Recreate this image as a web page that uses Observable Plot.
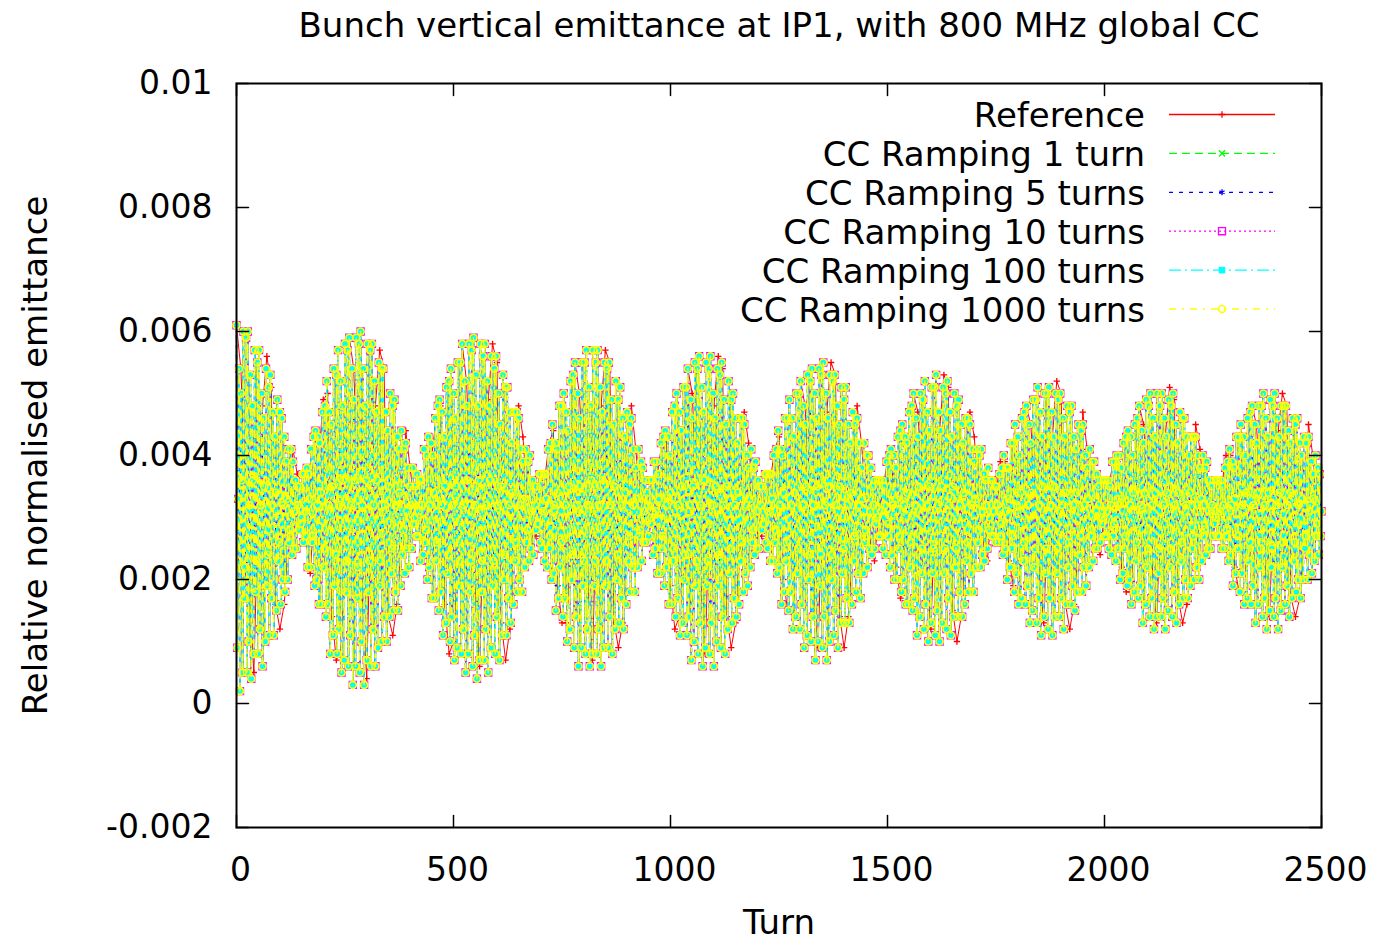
<!DOCTYPE html>
<html><head><meta charset="utf-8">
<script src="https://cdn.jsdelivr.net/npm/d3@7"></script>
<script src="https://cdn.jsdelivr.net/npm/@observablehq/plot@0.6"></script>
<style>
body{margin:0;background:#fff;}
#wrap{position:relative;width:1375px;height:941px;background:#fff;}
#wrap svg{position:absolute;left:0;top:0;}
</style></head><body><div id="wrap"></div>
<script>
// ---- chart text ----
const titleText = "Bunch vertical emittance at IP1, with 800 MHz global CC";
const xLabel = "Turn";
const yLabel = "Relative normalised emittance";
const xTicks = [0, 500, 1000, 1500, 2000, 2500];
const xTickLabels = ["0", "500", "1000", "1500", "2000", "2500"];
const yTicks = [-0.002, 0, 0.002, 0.004, 0.006, 0.008, 0.01];
const yTickLabels = ["-0.002", "0", "0.002", "0.004", "0.006", "0.008", "0.01"];
const seriesNames = ["Reference", "CC Ramping 1 turn", "CC Ramping 5 turns", "CC Ramping 10 turns", "CC Ramping 100 turns", "CC Ramping 1000 turns"];

// ---- values, emittance in units of 1e-4 ----
const refStep = 10;   // turns between reference samples
const refEmit = [
61,54,36,17,5,32,48,56,51,16,12,16,27,
41,37,32,27,21,32,40,49,50,14,7,8,23,
59,54,36,17,4,33,48,57,54,14,11,16,26,
44,38,32,28,24,32,40,46,48,16,8,10,23,
58,52,36,18,6,32,49,58,55,13,7,12,25,
48,43,33,27,27,31,36,42,44,19,13,13,24,
55,50,36,19,7,32,48,57,55,13,9,13,25,
48,41,33,27,27,31,37,42,43,19,12,14,25,
54,50,35,19,8,32,48,56,54,14,9,13,26,
47,42,33,27,27,31,36,41,43,20,15,15,25,
52,48,35,19,9,32,47,55,53,14,9,14,25,
48,42,33,26,23,31,35,39,40,22,17,18,26,
50,47,35,21,12,32,44,53,51,15,10,14,26,
47,43,33,26,23,31,34,39,39,23,19,18,26,
48,45,35,21,13,32,43,52,50,16,12,16,26,
47,41,33,26,24,31,35,39,39,22,18,18,27,
48,45,34,22,13,32,43,51,49,17,13,16,27,
45,41,33,27,27,31,35,40,40,22,18,18,26,
48,45,34,22,14,32,44,50,48,17,14,17,27,
45,40,33,27];

const ccStep = 2;     // turns between ramped-CC samples (the five ramped runs coincide)
const ccEmit = [
61,9,33,54,2,50,36,5,60,17,22,59,5,60,10,32,53,4,48,36,8,57,18,23,55,8,57,12,32,50,6,46,35,10,54,19,24,51,11,53,17,32,47,11,43,34,15,49,23,26,47,16,
46,20,32,43,18,39,33,20,41,26,28,41,24,39,25,31,36,25,35,32,28,35,29,30,37,26,37,27,31,38,22,37,33,22,41,26,27,43,19,44,20,32,43,16,42,34,16,47,22,25,48,14,
52,16,32,47,8,45,35,11,54,19,24,53,8,57,12,32,52,5,48,36,7,58,18,23,57,6,59,11,32,54,3,49,36,6,59,17,22,58,5,60,10,32,54,3,48,36,7,58,18,23,57,6,
58,12,32,52,6,47,36,9,55,19,23,54,10,54,14,32,47,10,44,35,14,50,21,25,48,15,49,18,32,43,15,41,34,19,44,24,28,41,21,42,25,31,38,22,35,32,25,38,29,30,35,27,
37,27,31,36,23,36,32,24,41,26,28,40,20,43,22,32,42,17,40,34,17,46,23,26,48,15,49,18,32,47,11,43,35,13,51,21,24,52,10,54,14,32,50,7,46,35,9,55,19,23,55,8,
58,12,32,52,5,48,36,8,58,18,23,57,6,59,11,32,53,4,48,36,7,58,18,23,56,7,58,12,32,52,5,48,36,9,56,19,23,54,8,56,14,32,50,7,45,35,11,53,20,24,51,11,
51,17,32,47,13,42,34,16,47,23,26,47,18,46,20,32,41,18,39,33,22,41,26,28,39,23,40,25,31,36,24,35,32,28,35,29,29,37,26,37,25,31,37,23,37,33,22,41,25,27,42,20,
45,21,32,42,15,41,34,17,48,22,26,48,14,50,17,32,47,10,44,35,12,52,20,24,53,9,55,14,32,50,6,46,35,9,55,19,23,55,8,57,12,32,51,6,48,36,8,57,19,23,55,8,
57,12,32,51,6,47,36,9,55,19,23,54,9,55,14,32,49,8,45,35,12,52,20,24,49,13,51,17,32,46,12,43,34,16,47,23,27,45,18,46,22,32,41,18,38,33,22,41,27,28,39,23,
38,26,31,36,26,34,32,27,36,29,30,36,24,39,25,31,39,21,37,33,21,42,25,27,43,19,44,22,32,43,16,40,34,16,47,23,25,48,14,50,17,32,47,11,44,35,13,51,20,24,51,11,
54,14,32,49,7,46,35,10,55,19,23,54,8,56,13,32,51,6,47,36,9,55,19,23,54,8,56,13,32,50,6,46,35,10,54,19,24,53,9,55,14,32,49,8,45,35,12,52,21,25,49,13,
50,17,32,46,14,42,34,16,46,23,26,46,18,45,21,32,40,19,38,33,22,41,26,28,38,24,39,25,31,36,25,35,32,28,35,29,29,37,26,37,25,31,37,23,37,33,23,40,26,28,41,21,
44,22,32,41,16,40,34,18,46,23,26,46,15,49,18,32,46,12,43,34,14,50,21,25,50,12,52,16,32,48,9,45,35,11,53,20,24,52,10,54,14,32,50,7,46,35,10,54,19,24,53,9,
55,14,32,50,7,46,35,10,53,20,24,52,11,53,15,32,48,9,45,35,13,51,21,25,49,13,51,17,32,45,13,42,34,16,47,23,27,45,18,46,21,32,42,17,38,33,21,42,26,28,40,22,
40,25,31,38,24,35,32,25,36,29,30,36,27,36,27,31,36,25,35,32,24,39,27,29,40,22,41,24,32,40,20,38,33,20,43,25,27,44,18,45,20,32,43,16,42,34,16,47,22,26,48,15,
50,17,32,46,11,43,35,14,50,21,25,49,12,52,16,32,47,10,44,35,13,51,21,25,51,11,53,15,32,47,10,44,35,13,51,21,25,50,12,52,17,32,47,11,43,35,14,50,22,25,48,14,
49,18,32,45,14,42,34,16,46,23,26,46,18,45,21,32,41,18,39,33,22,41,26,28,40,22,41,24,31,37,23,36,32,25,38,28,30,36,27,36,27,31,35,26,35,32,26,37,27,29,38,24,
40,25,31,38,20,38,33,22,42,25,27,42,18,45,21,32,43,16,40,34,17,46,23,26,47,16,48,19,32,45,13,42,34,15,49,22,25,49,13,51,17,32,47,11,43,35,14,50,21,25,50,12,
51,17,32,47,11,43,35,14,50,21,25,49,14,50,17,32,46,12,43,34,16,48,22,26,47,16,48,19,32,43,15,41,34,18,45,24,27,44,18,45,22,32,40,19,38,33,22,41,27,28,39,23,
39,25,31,37,25,35,32,26,36,29,30,36,27,36,27,31,36,25,35,32,24,39,27,29,39,23,40,25,32,40,20,38,33,21,42,25,27,43,19,44,20,32,43,16,40,34,18,45,23,26,46,17,
48,19,32,44,13,42,34,16,49,22,25,48,14,50,17,32,46,12,43,34,14,50,21,25,48,14,50,17,32,46,12,43,34,15,49,22,25,48,14,50,18,32,45,13,42,34,16,47,23,26,46,17,
46,20,32,43,17,40,34,19,43,25,27,43,20,43,22,32,40,20,38,33,23,40,27,28,38,24,39,25,31,36,25,35,32,27,36,29,30,36,27,36,27,31,36,25,35,32,25,38,27,28,39,23,
41,24,32,39,19,38,33,21,43,25,27,43,18,45,21,32,43,16,40,34,17,46,23,26,47,16,48,19,32,45,13,42,34,16,48,22,25,48,14,50,17,32,46,12,43,34,15,49,22,25,48,14,
50,17,32,46,12,43,34,15,48,22,26,48,16,48,19,32,44,14,42,34,17,46,23,26,45,18,46,20,32,42,17,40,33,20,43,25,27,42,20,43,24,32,39,21,37,33,23,40,27,29,38,24,
37,27,31];

// ---- styles ----
const FONT = "DejaVu Sans";
const styles = [
  {color: "#ff0000", dash: null,        symbol: "plus",     r: 2.2, filled: false, sw: 1.3, lw: 1},
  {color: "#00ff00", dash: "8,5",       symbol: "times",    r: 2.9, filled: false, sw: 1.3, lw: 1.5},
  {color: "#0000ff", dash: "4,6",       symbol: "asterisk", r: 2.8, filled: false, sw: 1.3, lw: 1.5},
  {color: "#ff00ff", dash: "2,3",       symbol: "square",   r: 4,   filled: false, sw: 1.3, lw: 1.5},
  {color: "#00ffff", dash: "12,4,2,4",  symbol: "square",   r: 3.7, filled: true,  sw: 1.3, lw: 1.5},
  {color: "#ffff00", dash: "7,6,2,6",   symbol: "circle",   r: 3.5, filled: false, sw: 1.6, lw: 1.5}
];

const refRows = refEmit.map((v, j) => ({turn: j * refStep, emit: v * 1e-4}));
const ccRows = ccEmit.map((v, i) => ({turn: i * ccStep, emit: v * 1e-4}));
const seriesRows = [refRows, ccRows, ccRows, ccRows, ccRows, ccRows];

const dataMarks = [];
seriesRows.forEach((rows, k) => {
  const s = styles[k];
  dataMarks.push(Plot.line(rows, {x: "turn", y: "emit", stroke: s.color, strokeWidth: s.lw, strokeDasharray: s.dash}));
  dataMarks.push(Plot.dot(rows, {x: "turn", y: "emit", symbol: s.symbol, r: s.r,
    fill: s.filled ? s.color : "none", stroke: s.filled ? "none" : s.color, strokeWidth: s.sw}));
});

const tickShape = {draw(ctx, l) { ctx.moveTo(0, 0); ctx.lineTo(0, -l); }};
const tickOpts = {length: 12, anchor: "start", shape: tickShape, stroke: "black", strokeWidth: 1.5};

const chart = Plot.plot({
  width: 1375, height: 941,
  marginLeft: 236, marginRight: 54, marginTop: 83, marginBottom: 114,
  x: {domain: [0, 2500], axis: null},
  y: {domain: [-0.002, 0.01], axis: null},
  style: {background: "white", fontFamily: FONT},
  marks: [
    ...dataMarks,
    Plot.axisY(yTicks, {anchor: "left", tickSize: 0, tickPadding: 24, label: null,
      tickFormat: d => yTickLabels[yTicks.indexOf(d)], fontSize: 33, fontFamily: FONT, fill: "black"}),
    Plot.axisX(xTicks, {anchor: "bottom", tickSize: 0, tickPadding: 30, dx: 4, label: null,
      tickFormat: d => xTickLabels[xTicks.indexOf(d)], fontSize: 33, fontFamily: FONT, fill: "black"}),
    Plot.vector(yTicks, {y: d => d, frameAnchor: "left", rotate: 90, ...tickOpts}),
    Plot.vector(yTicks, {y: d => d, frameAnchor: "right", rotate: -90, ...tickOpts}),
    Plot.vector(xTicks, {x: d => d, frameAnchor: "bottom", rotate: 0, ...tickOpts}),
    Plot.vector(xTicks, {x: d => d, frameAnchor: "top", rotate: 180, ...tickOpts}),
    Plot.text([titleText], {text: d => d, frameAnchor: "top", textAnchor: "middle", lineAnchor: "bottom", dy: -47, fontSize: 34, fontFamily: FONT, fill: "black"}),
    Plot.text([xLabel], {text: d => d, frameAnchor: "bottom", textAnchor: "middle", lineAnchor: "bottom", dy: 106, fontSize: 34, fontFamily: FONT, fill: "black"}),
    Plot.text([yLabel], {text: d => d, frameAnchor: "left", textAnchor: "middle", rotate: -90, lineAnchor: "bottom", dx: -190, fontSize: 34, fontFamily: FONT, fill: "black"}),
    Plot.frame({stroke: "black", strokeWidth: 2})
  ]
});
const wrap = document.getElementById("wrap");
wrap.appendChild(chart);

// ---- legend (key box inside the plot, top right) ----
const symbolTypes = {plus: d3.symbolPlus, times: d3.symbolTimes, asterisk: d3.symbolAsterisk, square: d3.symbolSquare, circle: d3.symbolCircle};
const leg = d3.select(wrap).append("svg").attr("width", 1375).attr("height", 941).style("pointer-events", "none");
const row0 = 114.5, rowGap = 38.9, textRight = 1145, lineX1 = 1169, lineX2 = 1275, markX = 1222;
seriesNames.forEach((name, k) => {
  const s = styles[k];
  const y = row0 + k * rowGap;
  leg.append("text").attr("x", textRight).attr("y", y + 12.5).attr("text-anchor", "end")
    .attr("font-family", FONT).attr("font-size", 34).attr("fill", "black").text(name);
  leg.append("line").attr("x1", lineX1).attr("x2", lineX2).attr("y1", y).attr("y2", y)
    .attr("stroke", s.color).attr("stroke-width", 1.3).attr("stroke-dasharray", s.dash);
  leg.append("path").attr("transform", `translate(${markX},${y})`)
    .attr("d", d3.symbol().type(symbolTypes[s.symbol]).size(Math.PI * s.r * s.r)())
    .attr("fill", s.filled ? s.color : "none").attr("stroke", s.filled ? "none" : s.color).attr("stroke-width", s.sw);
});
</script></body></html>
